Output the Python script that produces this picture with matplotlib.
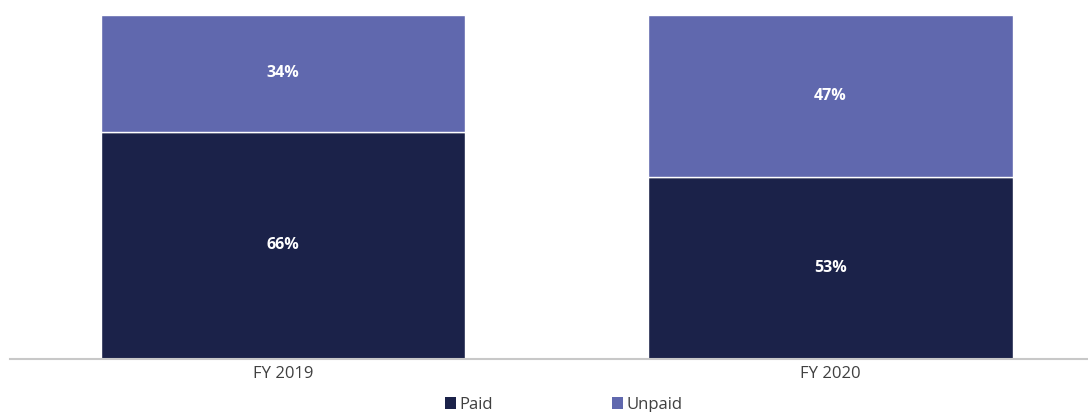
import matplotlib
matplotlib.use("Agg")
import matplotlib.pyplot as plt
from matplotlib.patches import Patch

years = ["FY 2019", "FY 2020"]
paid = [66, 53]
unpaid = [34, 47]
series_names = ["Paid", "Unpaid"]

paid_color = "#1B2249"
unpaid_color = "#6068AE"

plt.rcParams["font.family"] = ["Open Sans", "DejaVu Sans"]

fig = plt.figure(figsize=(10.88, 4.12), dpi=100)
ax = fig.add_axes([10 / 1088, 1 - 359 / 412, 1078 / 1088, (359 - 15) / 412])

x = list(range(len(years)))
width = 0.665
ax.bar(x, paid, width, color=paid_color, edgecolor="white", linewidth=1.0)
ax.bar(x, unpaid, width, bottom=paid, color=unpaid_color, edgecolor="white", linewidth=1.0)

for xi, p, u in zip(x, paid, unpaid):
    ax.text(xi, p / 2, f"{p}%", ha="center", va="center", color="white",
            fontsize=11.5, fontweight="bold")
    ax.text(xi, p + u / 2, f"{u}%", ha="center", va="center", color="white",
            fontsize=11.5, fontweight="bold")

ax.set_xlim(-0.4986, 1.4703)
ax.set_ylim(0, 100)
ax.set_xticks(x)
ax.set_xticklabels(years, fontsize=12, color="#404040")
ax.tick_params(axis="x", length=0, pad=5)
ax.set_yticks([])
for side in ["top", "right", "left"]:
    ax.spines[side].set_visible(False)
ax.spines["bottom"].set_color("#C8C8C8")
ax.spines["bottom"].set_linewidth(1.5)

handles = [Patch(facecolor=paid_color), Patch(facecolor=unpaid_color)]
fig.legend(handles, series_names, loc="center", bbox_to_anchor=(0.518, 1 - 405 / 412),
           ncol=2, frameon=False, fontsize=12, handlelength=0.7, handleheight=0.7,
           handletextpad=0.2, columnspacing=7.1, labelcolor="#404040",
           borderaxespad=0, borderpad=0)

fig.savefig("out.png", dpi=100, facecolor="white")
